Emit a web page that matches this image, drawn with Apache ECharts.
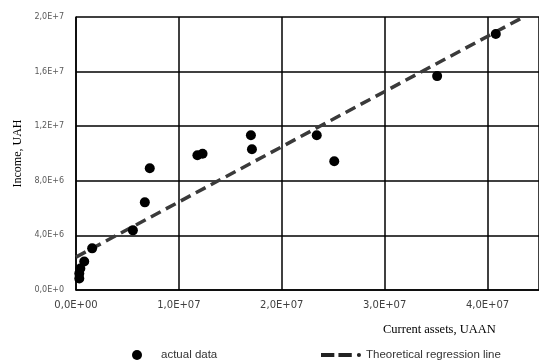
<!DOCTYPE html>
<html>
<head>
<meta charset="utf-8">
<script src="https://cdn.jsdelivr.net/npm/echarts@6/dist/echarts.min.js"></script>
<style>
  html, body { margin: 0; padding: 0; background: #fff; }
  #chart { width: 539px; height: 363px; }
</style>
</head>
<body>
<div id="chart"></div>
<script>
// actual data: current assets (x) vs income (y)
const assets = [0.32e6, 0.32e6, 0.42e6, 0.80e6, 1.57e6, 5.53e6, 6.69e6, 7.17e6, 11.8e6, 12.3e6, 17.0e6, 17.1e6, 23.4e6, 25.1e6, 35.1e6, 40.8e6]
const income = [0.84e6, 1.21e6, 1.58e6, 2.09e6, 3.05e6, 4.37e6, 6.42e6, 8.92e6, 9.87e6, 9.98e6, 11.34e6, 10.31e6, 11.34e6, 9.43e6, 15.67e6, 18.75e6]

// theoretical regression line end points
const lineX = [0, 4.35e7]
const lineY = [2.41e6, 2.0e7]

const xTicks = [0, 1e7, 2e7, 3e7, 4e7]
const xTickLabels = ['0,0E+00', '1,0E+07', '2,0E+07', '3,0E+07', '4,0E+07']
const yTicks = [0, 4e6, 8e6, 1.2e7, 1.6e7, 2e7]
const yTickLabels = ['0,0E+0', '4,0E+6', '8,0E+6', '1,2E+7', '1,6E+7', '2,0E+7']

const chart = echarts.init(document.getElementById('chart'))

const labelOf = (ticks, labels) => v => {
  const i = ticks.findIndex(t => Math.abs(t - v) < 1)
  return i >= 0 ? labels[i] : ''
}

const option = {
  animation: false,
  grid: { left: 76, top: 17, right: -3, bottom: 73 },
  xAxis: {
    type: 'value',
    min: 0,
    max: 4.5e7,
    interval: 1e7,
    axisLine: { show: true, lineStyle: { color: '#000', width: 1.5 } },
    axisTick: { show: false },
    splitLine: { lineStyle: { color: '#000', width: 1.5 } },
    axisLabel: {
      margin: 10,
      showMaxLabel: false,
      color: '#404040',
      fontSize: 10,
      fontFamily: 'DejaVu Sans',
      formatter: labelOf(xTicks, xTickLabels)
    }
  },
  yAxis: {
    type: 'value',
    min: 0,
    max: 2e7,
    interval: 4e6,
    name: 'Income, UAH',
    nameLocation: 'middle',
    nameGap: 52,
    nameTextStyle: { fontFamily: 'Liberation Serif', fontSize: 12, color: '#000' },
    axisLine: { show: true, lineStyle: { color: '#000', width: 1.5 } },
    axisTick: { show: false },
    splitLine: { lineStyle: { color: '#000', width: 1.5 } },
    axisLabel: {
      margin: 12,
      color: '#595959',
      fontSize: 8,
      fontFamily: 'DejaVu Sans',
      formatter: labelOf(yTicks, yTickLabels)
    }
  },
  graphic: [{
    type: 'text',
    left: 383,
    top: 323,
    style: { text: 'Current assets, UAAN', fontFamily: 'Liberation Serif', fontSize: 12.5, fill: '#000' }
  }],
  legend: [
    {
      data: [{ name: 'actual data', icon: 'circle' }],
      left: 127,
      top: 344,
      itemWidth: 10,
      itemHeight: 10,
      textStyle: { fontFamily: 'Liberation Sans', fontSize: 11.5, color: '#333', padding: [0, 0, 0, 14] }
    },
    {
      data: [{
        name: 'Theoretical regression line',
        icon: 'path://M0,1h13v4h-13z M17,1h13v4h-13z M35,3a2,2 0 1,0 4,0a2,2 0 1,0 -4,0z'
      }],
      left: 316,
      top: 344,
      itemWidth: 40,
      itemHeight: 6,
      textStyle: { fontFamily: 'Liberation Sans', fontSize: 11.5, color: '#333' }
    }
  ],
  series: [
    {
      name: 'Theoretical regression line',
      type: 'line',
      data: lineX.map((x, i) => [x, lineY[i]]),
      symbol: 'none',
      itemStyle: { color: '#222' },
      lineStyle: { color: '#3a3a3a', width: 3.5, type: [11, 6] },
      z: 3
    },
    {
      name: 'actual data',
      type: 'scatter',
      data: assets.map((x, i) => [x, income[i]]),
      symbolSize: 10,
      itemStyle: { color: '#000', opacity: 1 },
      z: 4
    }
  ]
}

chart.setOption(option)
</script>
</body>
</html>
